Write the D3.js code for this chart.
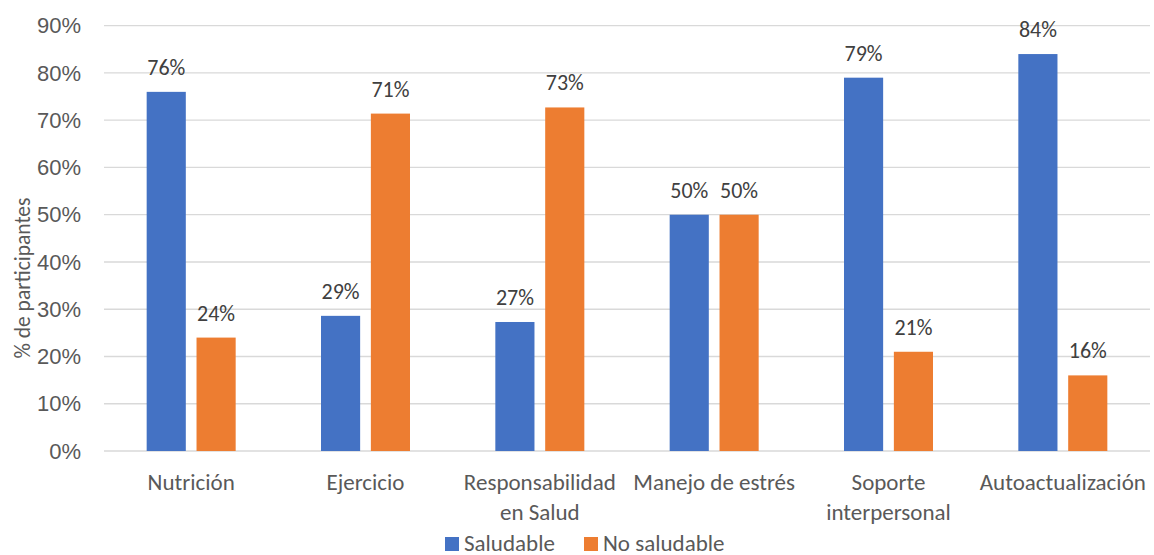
<!DOCTYPE html>
<html>
<head>
<meta charset="utf-8">
<script src="https://cdn.jsdelivr.net/npm/d3@7"></script>
<style>
  html, body { margin: 0; padding: 0; background: #fff; }
  svg { display: block; font-family: Carlito, Calibri, Lato, "Open Sans", sans-serif; }
</style>
</head>
<body>
<svg id="chart" width="1154" height="555"></svg>
<script>
// Estilos de vida: porcentaje de participantes por dimensión
const categories = ["Nutrición", "Ejercicio", "Responsabilidad\nen Salud", "Manejo de estrés", "Soporte\ninterpersonal", "Autoactualización"];
const seriesNames = ["Saludable", "No saludable"];
const saludable   = [0.76, 0.286, 0.273, 0.50, 0.79, 0.84];
const noSaludable = [0.24, 0.714, 0.727, 0.50, 0.21, 0.16];
const yTicks = [0, 0.1, 0.2, 0.3, 0.4, 0.5, 0.6, 0.7, 0.8, 0.9];
const colors = ["#4472C4", "#ED7D31"];

const svg = d3.select("#chart");
const margin = { left: 104, right: 4, top: 25.7, bottom: 104 };
const W = 1154, H = 555;

const x = d3.scaleBand().domain(categories).range([margin.left, W - margin.right]);
const y = d3.scaleLinear().domain([0, 0.9]).range([H - margin.bottom, margin.top]);
const xs = d3.scaleBand().domain(seriesNames).range([-44.5, 44.5]).paddingInner(0.215);

// Gridlines
svg.append("g")
  .selectAll("line").data(yTicks).join("line")
  .attr("x1", margin.left).attr("x2", W - margin.right)
  .attr("y1", d => y(d)).attr("y2", d => y(d))
  .attr("stroke", "#D9D9D9").attr("stroke-width", 1.3);

// Y axis labels
const yAxis = svg.append("g")
  .attr("transform", `translate(81,0)`)
  .call(d3.axisLeft(y).tickValues(yTicks).tickFormat(d3.format(".0%")).tickSize(0).tickPadding(0));
yAxis.select(".domain").remove();
yAxis.selectAll("text").attr("fill", "#595959").attr("font-size", 22).attr("font-family", null);

// Y axis title
svg.append("text")
  .attr("transform", `translate(30,278) rotate(-90)`)
  .attr("text-anchor", "middle")
  .attr("fill", "#595959").attr("font-size", 21.5)
  .text("% de participantes");

// Bars
const rows = categories.map((c, i) => ({ cat: c, vals: [saludable[i], noSaludable[i]] }));
const groups = svg.append("g").selectAll("g").data(rows).join("g")
  .attr("transform", d => `translate(${x(d.cat) + x.bandwidth() / 2},0)`);

groups.selectAll("rect")
  .data(d => d.vals.map((v, j) => ({ v, s: seriesNames[j], j })))
  .join("rect")
  .attr("x", d => xs(d.s)).attr("width", xs.bandwidth())
  .attr("y", d => y(d.v)).attr("height", d => y(0) - y(d.v))
  .attr("fill", d => colors[d.j]);

// Data labels
groups.selectAll("text.lbl")
  .data(d => d.vals.map((v, j) => ({ v, s: seriesNames[j] })))
  .join("text").attr("class", "lbl")
  .attr("x", d => xs(d.s) + xs.bandwidth() / 2)
  .attr("y", d => y(d.v) - 17)
  .attr("text-anchor", "middle")
  .attr("fill", "#404040").attr("font-size", 22)
  .text(d => d3.format(".0%")(d.v));

// Category labels
const catG = svg.append("g").selectAll("text").data(categories).join("text")
  .attr("x", d => x(d) + x.bandwidth() / 2)
  .attr("y", 490)
  .attr("text-anchor", "middle")
  .attr("fill", "#595959").attr("font-size", 23);
catG.selectAll("tspan").data(d => d.split("\n")).join("tspan")
  .attr("x", function () { return this.parentNode.getAttribute("x"); })
  .attr("dy", (d, i) => i === 0 ? 0 : 30)
  .text(d => d);

// Legend
const legendX = [445, 584];
const leg = svg.append("g").selectAll("g").data(seriesNames).join("g")
  .attr("transform", (d, i) => `translate(${legendX[i]},537)`);
leg.append("rect").attr("width", 14).attr("height", 14).attr("fill", (d, i) => colors[i]);
leg.append("text").attr("x", 19).attr("y", 14)
  .attr("fill", "#595959").attr("font-size", 23).text(d => d);
</script>
</body>
</html>
